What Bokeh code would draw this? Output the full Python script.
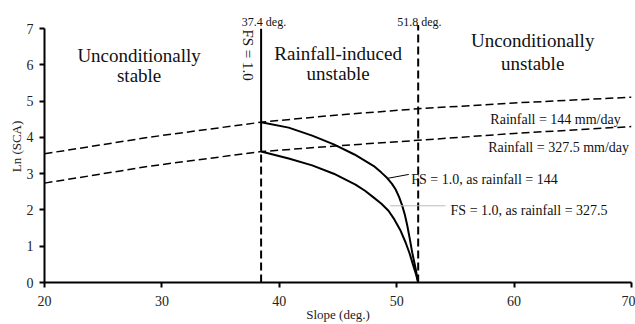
import math
from bokeh.plotting import figure
from bokeh.models import Label, FixedTicker
from bokeh.embed import file_html
from bokeh.resources import INLINE

# ---- data ----
slope_rain = [20, 29, 38.45, 45, 51.8, 60, 70]
ln_rain_144 = [3.55, 4.01, 4.42, 4.62, 4.79, 4.95, 5.11]
ln_rain_327 = [2.74, 3.21, 3.61, 3.77, 3.92, 4.11, 4.30]

slope_fs_144 = [38.45, 40.8, 42.8, 44.64, 46.4, 48.05, 48.7, 49.19, 49.6, 49.9, 50.2,
                50.47, 50.7, 50.9, 51.1, 51.32, 51.6, 51.83]
ln_fs_144 = [4.42, 4.27, 4.05, 3.81, 3.53, 3.21, 3.03, 2.88, 2.72, 2.57, 2.36,
             2.12, 1.86, 1.57, 1.23, 0.83, 0.40, 0.0]

slope_fs_327 = [38.45, 40.8, 42.8, 44.64, 46.49, 47.3, 48.05, 48.7, 49.3, 49.8, 50.3,
                50.75, 51.1, 51.4, 51.65, 51.83]
ln_fs_327 = [3.61, 3.42, 3.23, 3.00, 2.70, 2.53, 2.34, 2.17, 1.98, 1.74, 1.45,
             1.11, 0.80, 0.48, 0.22, 0.0]

slope_lower = 38.45     # FS = 1.0 boundary line
slope_upper = 51.83     # unconditional instability boundary
ln_split = 3.61         # where the lower boundary changes from dashed to solid
ln_top = 7

leader_144_x = [49.19, 51.03]
leader_144_y = [2.87, 2.98]
leader_327_x = [49.45, 54.16]
leader_327_y = [2.115, 2.115]

x_ticks = [20, 30, 40, 50, 60, 70]
y_ticks = [0, 1, 2, 3, 4, 5, 6, 7]

FONT = "Liberation Serif"

p = figure(width=635, height=324, x_range=(20, 70), y_range=(0, 7.5),
           output_backend="svg", toolbar_location=None,
           min_border_left=44, min_border_right=4, min_border_top=10, min_border_bottom=42)
p.outline_line_color = None
p.xgrid.grid_line_color = None
p.ygrid.grid_line_color = None
p.background_fill_color = "white"
p.border_fill_color = "white"

for ax in (p.xaxis[0], p.yaxis[0]):
    ax.axis_line_width = 2
    ax.axis_line_color = "black"
    ax.major_tick_line_width = 2
    ax.major_tick_line_color = "black"
    ax.major_tick_out = 5
    ax.major_tick_in = 0
    ax.minor_tick_line_color = None
    ax.major_label_text_font = FONT
    ax.major_label_text_font_size = "14px"
    ax.major_label_text_color = "#222222"
    ax.axis_label_text_font = FONT
    ax.axis_label_text_font_size = "13px"
    ax.axis_label_text_font_style = "normal"
    ax.axis_label_text_color = "#222222"

p.xaxis[0].ticker = FixedTicker(ticks=x_ticks)
p.yaxis[0].ticker = FixedTicker(ticks=y_ticks)
p.yaxis[0].bounds = (0, 7)
p.xaxis[0].axis_label = "Slope (deg.)"
p.yaxis[0].axis_label = "Ln (SCA)"
p.xaxis[0].major_label_standoff = 8
p.yaxis[0].major_label_standoff = 6
p.xaxis[0].axis_label_standoff = -2
p.yaxis[0].axis_label_standoff = 0

# rainfall lines
p.line(slope_rain, ln_rain_144, line_color="black", line_width=1.5, line_dash="8 4")
p.line(slope_rain, ln_rain_327, line_color="black", line_width=1.5, line_dash="8 4")

# FS = 1.0 curves
p.line(slope_fs_144, ln_fs_144, line_color="black", line_width=2, line_join="round")
p.line(slope_fs_327, ln_fs_327, line_color="black", line_width=2, line_join="round")

# vertical boundaries
p.line([slope_lower, slope_lower], [ln_split, ln_top], line_color="black", line_width=2)
p.line([slope_lower, slope_lower], [0, ln_split], line_color="black", line_width=2, line_dash="8 4")
p.line([slope_upper, slope_upper], [0, ln_top + 0.1], line_color="black", line_width=2, line_dash="8 4")

# leader lines
p.line(leader_144_x, leader_144_y, line_color="black", line_width=1)
p.line(leader_327_x, leader_327_y, line_color="#bbbbbb", line_width=1)

def lab(x, y, text, size, align="center", baseline="alphabetic", angle=0):
    p.add_layout(Label(x=x, y=y, text=text, text_font=FONT, text_font_size=size,
                       text_align=align, text_baseline=baseline, angle=angle,
                       text_color="#111111"))

lab(28.06, 6.26, "Unconditionally", "19px")
lab(28.06, 5.70, "stable", "19px")
lab(45.01, 6.31, "Rainfall-induced", "19px")
lab(45.01, 5.76, "unstable", "19px")
lab(61.58, 6.67, "Unconditionally", "19px")
lab(61.58, 6.03, "unstable", "19px")

lab(38.7, 7.18, "37.4 deg.", "12px")
lab(51.93, 7.18, "51.8 deg.", "12px")
lab(37.37, 6.27, "FS = 1.0", "15px", baseline="middle", angle=-math.pi / 2)

lab(69.08, 4.49, "Rainfall = 144 mm/day", "14px", align="right")
lab(69.79, 3.72, "Rainfall = 327.5 mm/day", "14px", align="right")
lab(51.24, 2.85, "FS = 1.0, as rainfall = 144", "14px", align="left")
lab(54.59, 1.99, "FS = 1.0, as rainfall = 327.5", "14px", align="left")

open("out.html", "w").write(file_html(p, INLINE))
